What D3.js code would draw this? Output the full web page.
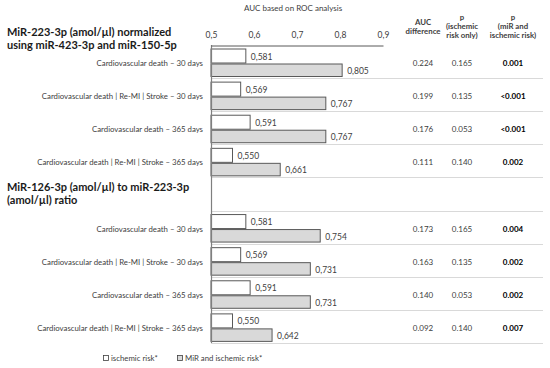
<!DOCTYPE html>
<html>
<head>
<meta charset="utf-8">
<script src="https://cdn.jsdelivr.net/npm/d3@7"></script>
<style>
  body { margin: 0; background: #fff; }
  svg { font-family: Lato, "Open Sans", sans-serif; }
</style>
</head>
<body>
<svg id="chart" width="550" height="368"></svg>
<script>
// groups of rows, each with 4 outcomes
const groupTitles = [
    ["MiR-223-3p (amol/µl) normalized", "using miR-423-3p and miR-150-5p"],
    ["MiR-126-3p (amol/µl) to miR-223-3p", "(amol/µl) ratio"]
];
const outcomes = [
    "Cardiovascular death – 30 days",
    "Cardiovascular death | Re-MI | Stroke – 30 days",
    "Cardiovascular death – 365 days",
    "Cardiovascular death | Re-MI | Stroke – 365 days"
];
const ischemicAuc = [0.581, 0.569, 0.591, 0.550, 0.581, 0.569, 0.591, 0.550];
const mirAuc = [0.805, 0.767, 0.767, 0.661, 0.754, 0.731, 0.731, 0.642];
const aucDiff = ["0.224", "0.199", "0.176", "0.111", "0.173", "0.163", "0.140", "0.092"];
const pIschemic = ["0.165", "0.135", "0.053", "0.140", "0.165", "0.135", "0.053", "0.140"];
const pMir = ["0.001", "<0.001", "<0.001", "0.002", "0.004", "0.002", "0.002", "0.007"];
const xTicks = [0.5, 0.6, 0.7, 0.8, 0.9];
const legendLabels = ["ischemic risk*", "MiR and ischemic risk*"];

let svg = d3.select("#chart");

// row slots: 4 rows, one empty slot for the second heading, 4 rows
let rows = [];
for (let i = 0; i < 8; i++) {
    rows.push({
        slot: i < 4 ? i : i + 1,
        label: outcomes[i % 4],
        isch: ischemicAuc[i],
        mir: mirAuc[i],
        diff: aucDiff[i],
        p1: pIschemic[i],
        p2: pMir[i]
    });
}

let x = d3.scaleLinear().domain([0.5, 0.9]).range([211, 383]);
let y = d3.scaleBand().domain(d3.range(9)).range([45, 343]);
let fmt = (d) => d3.format(".3f")(d).replace(".", ",");

// separators
svg.selectAll(".sep")
    .data(d3.range(1, 10))
    .enter().append("line")
    .attr("x1", 211).attr("x2", 543)
    .attr("y1", (d) => Math.round(45 + d * y.step()) + 0.5)
    .attr("y2", (d) => Math.round(45 + d * y.step()) + 0.5)
    .attr("stroke", "#d9d9d9").attr("stroke-width", 1);

// bars
let g = svg.selectAll(".row").data(rows).enter().append("g")
    .attr("transform", (d) => `translate(0, ${y(d.slot)})`);

g.append("rect")
    .attr("x", x(0.5))
    .attr("y", 4)
    .attr("width", (d) => x(d.isch) - x(0.5))
    .attr("height", 14)
    .attr("fill", "#fff")
    .attr("stroke", "#595959").attr("stroke-width", 1);
g.append("rect")
    .attr("x", x(0.5))
    .attr("y", 19)
    .attr("width", (d) => x(d.mir) - x(0.5))
    .attr("height", 12.5)
    .attr("fill", "#d9d9d9")
    .attr("stroke", "#595959").attr("stroke-width", 1);

g.append("text")
    .attr("x", (d) => x(d.isch) + 5).attr("y", 14.5)
    .attr("font-size", 8.5).attr("fill", "#404040")
    .text((d) => fmt(d.isch));
g.append("text")
    .attr("x", (d) => x(d.mir) + 5).attr("y", 29)
    .attr("font-size", 8.5).attr("fill", "#404040")
    .text((d) => fmt(d.mir));

g.append("text")
    .attr("x", 203).attr("y", 21)
    .attr("text-anchor", "end")
    .attr("font-size", 7.8).attr("fill", "#404040")
    .text((d) => d.label);

// table columns
const cols = [
    {x: 423, key: "diff", bold: false},
    {x: 462, key: "p1", bold: false},
    {x: 513, key: "p2", bold: true}
];
for (let c of cols) {
    g.append("text")
        .attr("x", c.x).attr("y", 21)
        .attr("text-anchor", "middle")
        .attr("font-size", 8)
        .attr("font-weight", c.bold ? "bold" : "normal")
        .attr("fill", c.bold ? "#000" : "#404040")
        .text((d) => d[c.key]);
}

// axis line along the left of the bars
svg.append("line")
    .attr("x1", x(0.5) + 0.5).attr("x2", x(0.5) + 0.5)
    .attr("y1", 45).attr("y2", 343)
    .attr("stroke", "#7f7f7f").attr("stroke-width", 1.2);

// top axis
let axis = svg.append("g")
    .attr("transform", "translate(0, 45.5)")
    .call(d3.axisTop(x).tickValues(xTicks).tickSize(0).tickPadding(8)
        .tickFormat((d) => d3.format(".1f")(d).replace(".", ",")));
axis.select(".domain").attr("stroke", "#595959");
axis.selectAll("text").attr("font-size", 8.5).attr("fill", "#404040")
    .attr("font-family", "Lato, sans-serif");

svg.append("text")
    .attr("x", 293).attr("y", 11)
    .attr("text-anchor", "middle")
    .attr("font-size", 8).attr("fill", "#404040")
    .text("AUC based on ROC analysis");

// column headers
const headers = [
    {x: 423, lines: ["AUC", "difference"], y0: 25},
    {x: 462, lines: ["p", "(ischemic", "risk only)"], y0: 20},
    {x: 513, lines: ["p", "(miR and", "ischemic risk)"], y0: 20}
];
for (let h of headers) {
    h.lines.forEach((t, i) => {
        svg.append("text")
            .attr("x", h.x).attr("y", h.y0 + i * 9)
            .attr("text-anchor", "middle")
            .attr("font-size", 7.8).attr("font-weight", "bold")
            .attr("fill", "#404040")
            .text(t);
    });
}

// group headings
const headingY = [36, 191];
groupTitles.forEach((lines, gi) => {
    lines.forEach((t, i) => {
        svg.append("text")
            .attr("x", 7).attr("y", headingY[gi] + i * 13)
            .attr("font-size", 11).attr("font-weight", "bold")
            .attr("fill", "#1a1a1a")
            .text(t);
    });
});

// legend
const legendX = [103, 177];
const legendFill = ["#fff", "#d9d9d9"];
legendLabels.forEach((t, i) => {
    svg.append("rect")
        .attr("x", legendX[i] + 0.5).attr("y", 355.5)
        .attr("width", 5).attr("height", 5)
        .attr("fill", legendFill[i]).attr("stroke", "#404040").attr("stroke-width", 0.8);
    svg.append("text")
        .attr("x", legendX[i] + 8).attr("y", 361)
        .attr("font-size", 7.8).attr("fill", "#404040")
        .text(t);
});
</script>
</body>
</html>
